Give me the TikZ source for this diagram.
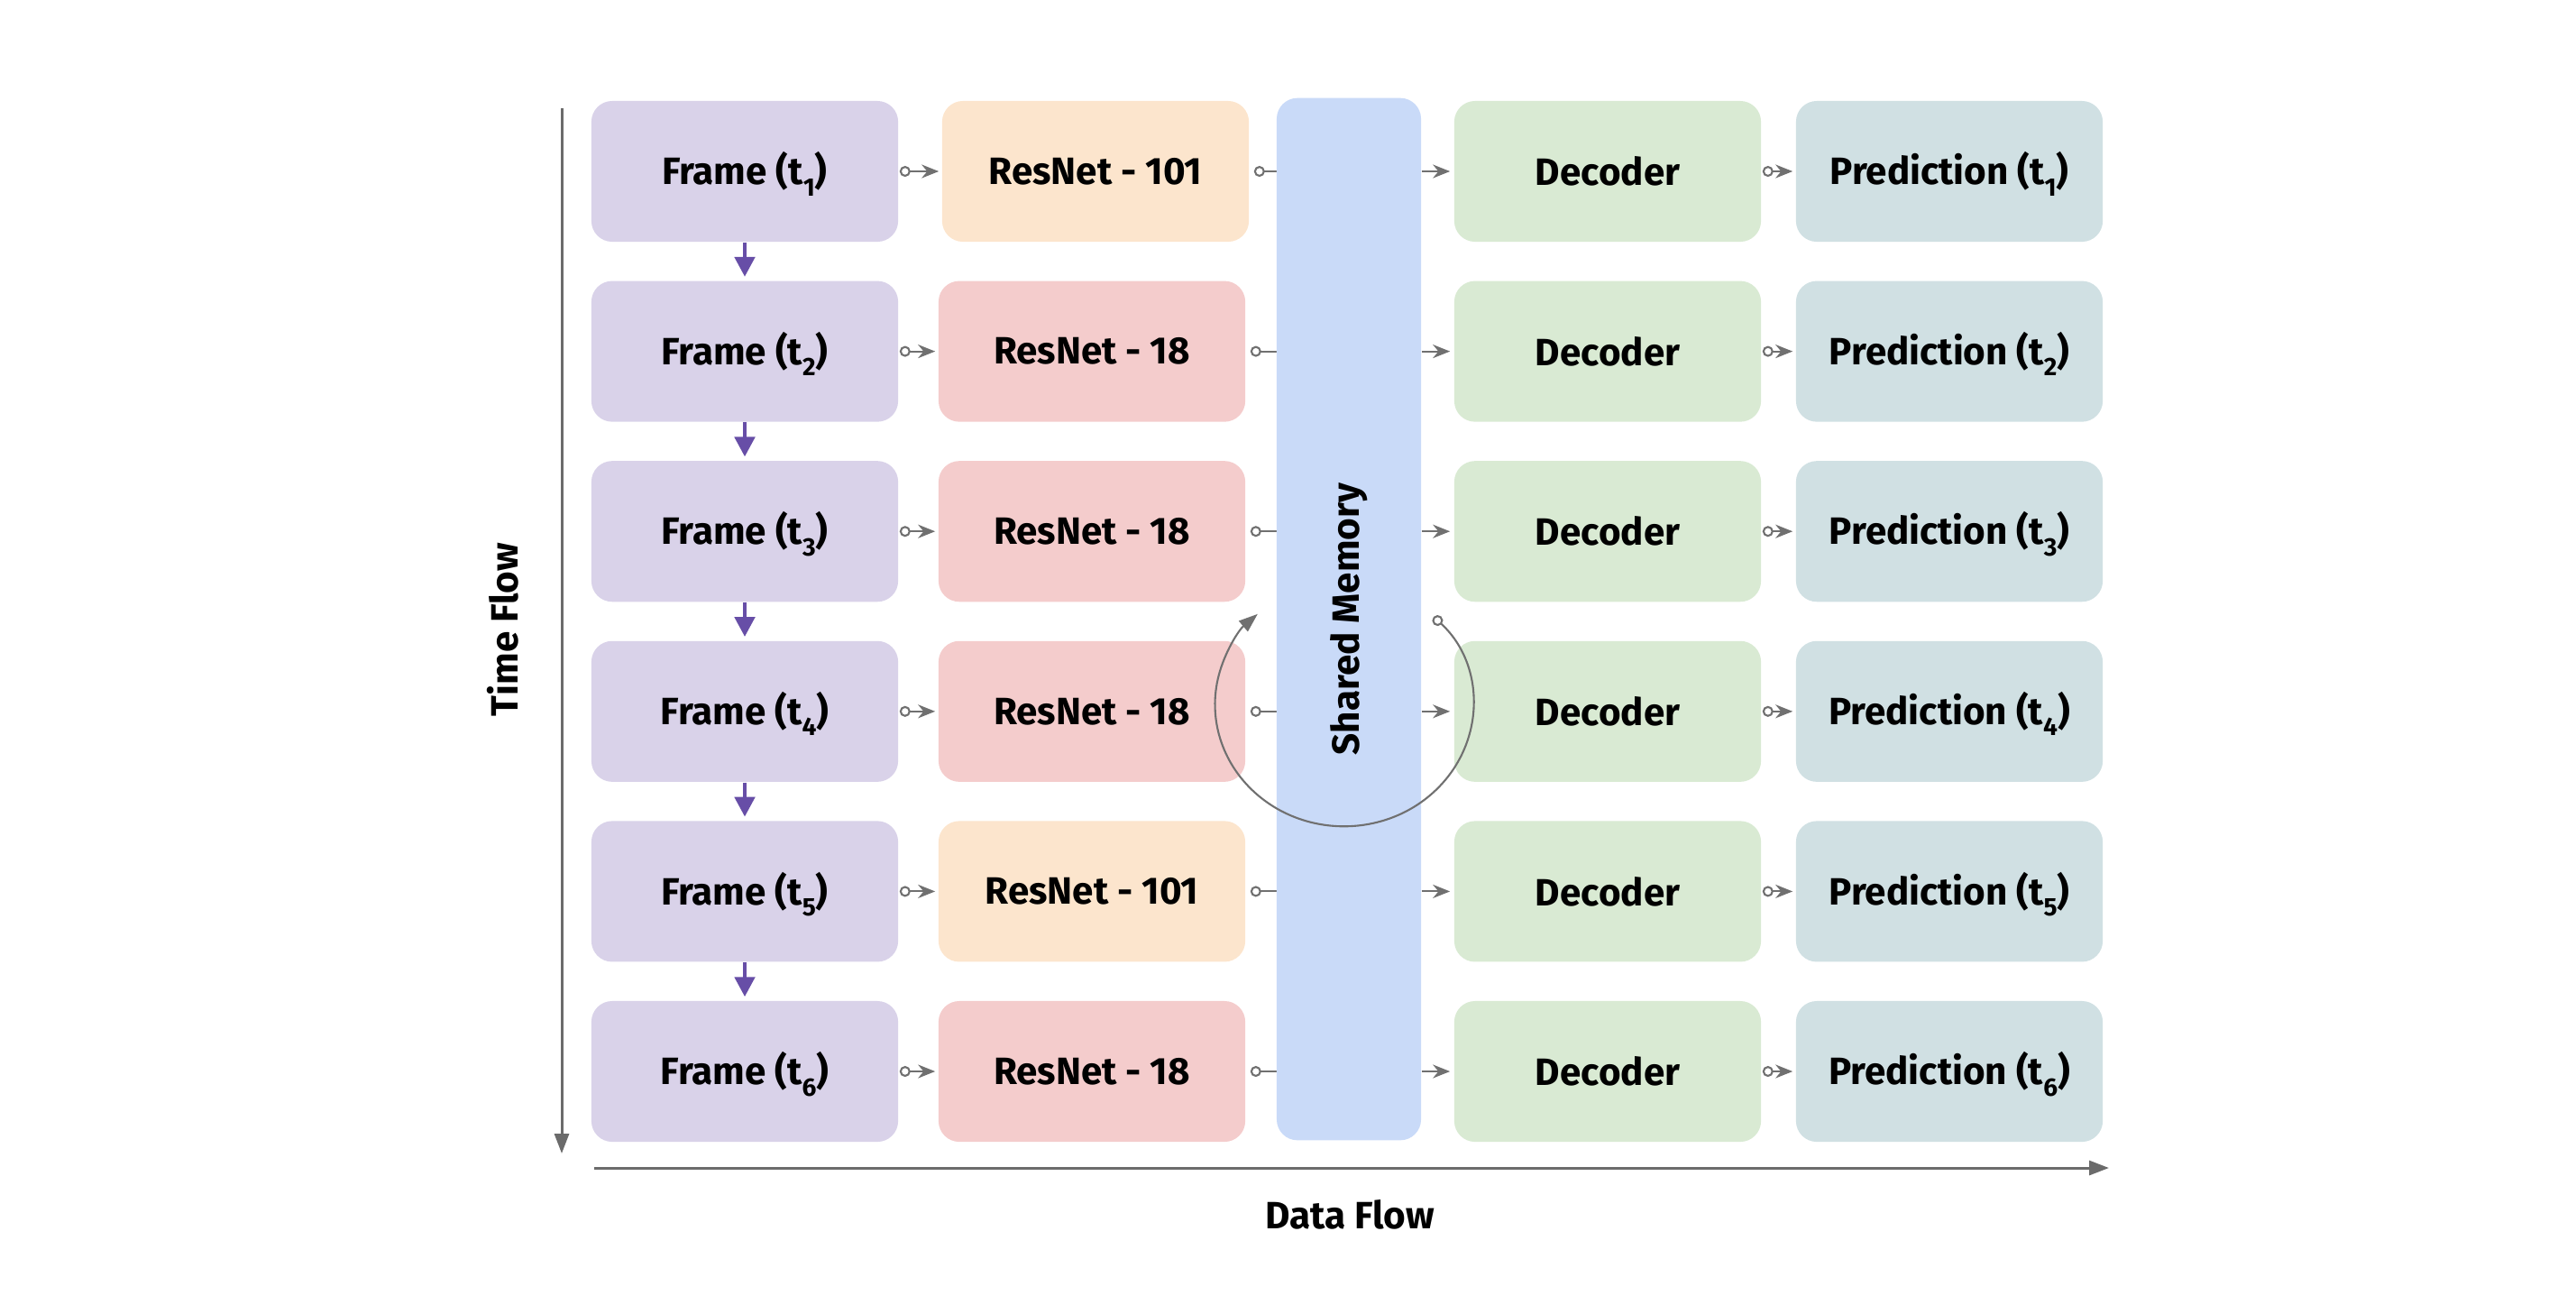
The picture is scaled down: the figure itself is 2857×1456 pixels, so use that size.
\documentclass[tikz,border=0pt]{standalone}
\usepackage{fontspec}
\setmainfont{Fira Sans}
\usetikzlibrary{arrows.meta}
\definecolor{framec}{HTML}{D9D2E9}
\definecolor{res101}{HTML}{FCE5CD}
\definecolor{res18}{HTML}{F4CCCC}
\definecolor{smc}{HTML}{C9DAF8}
\definecolor{decc}{HTML}{D9EAD3}
\definecolor{predc}{HTML}{D0E0E3}
\definecolor{linkc}{HTML}{707070}
\definecolor{axisc}{HTML}{6B6B6B}
\definecolor{purp}{HTML}{674EA7}
\newcommand{\tsb}[1]{t\raisebox{-0.55ex}[0pt][0pt]{\fontsize{8}{9}\selectfont #1}}
\begin{document}
\begin{tikzpicture}[x=0.01cm,y=-0.01cm,
  box/.style={rounded corners=0.23cm, minimum width=3.40cm, minimum height=1.56cm, inner sep=0pt,
    font=\bfseries\fontsize{12}{14}\selectfont},
  lbl/.style={font=\bfseries\fontsize{12}{14}\selectfont},
  link/.style={draw=linkc, line width=0.6pt,
    {Circle[open,length=0.12cm,width=0.12cm,fill=white]}-{Stealth[length=0.19cm,width=0.15cm]}},
  linko/.style={draw=linkc, line width=0.6pt, {Circle[open,length=0.12cm,width=0.12cm,fill=white]}-},
  linka/.style={draw=linkc, line width=0.6pt, -{Stealth[length=0.19cm,width=0.15cm]}},
  down/.style={draw=purp, fill=purp, line width=1.4pt, -{Triangle[length=0.22cm,width=0.22cm]}},
  axis/.style={draw=axisc, line width=0.85pt, -{Triangle[length=0.22cm,width=0.16cm]}}
]
\useasboundingbox (0,0) rectangle (2857,1456);

% frames, decoders, predictions
\foreach \i/\y in {1/190,2/389.6,3/589.2,4/788.8,5/988.4,6/1188}{
  \node[box, fill=framec] (f\i) at (826,\y) {Frame (\tsb{\i})};
  \node[box, fill=decc] (d\i) at (1783,\y) {Decoder};
  \node[box, fill=predc] (p\i) at (2162,\y) {Prediction (\tsb{\i})};
}
\node[box, fill=res101] (r1) at (1215,190) {ResNet - 101};
\node[box, fill=res18] (r2) at (1211,389.6) {ResNet - 18};
\node[box, fill=res18] (r3) at (1211,589.2) {ResNet - 18};
\node[box, fill=res18] (r4) at (1211,788.8) {ResNet - 18};
\node[box, fill=res101] (r5) at (1211,988.4) {ResNet - 101};
\node[box, fill=res18] (r6) at (1211,1188) {ResNet - 18};

% connectors (those into shared memory drawn under it)
\foreach \i in {1,...,6}{
  \draw[link] ([xshift=0.01cm]f\i.east) -- ([xshift=-0.03cm]r\i.west);
  \draw[linko] ([xshift=0.05cm]r\i.east) -- ++(0.40cm,0);
  \draw[link] ([xshift=0.01cm]d\i.east) -- ([xshift=-0.03cm]p\i.west);
}

% shared memory
\node[box, fill=smc, minimum width=1.60cm, minimum height=11.55cm] (sm) at (1496,686.5) {};
\node[lbl, rotate=90] (smt) at (sm.center) {Shared Memory};

\foreach \i in {1,...,6}{
  \draw[linka] (sm.east |- d\i.west) -- ([xshift=-0.04cm]d\i.west);
}

% frame-to-frame arrows
\foreach \i/\j in {1/2,2/3,3/4,4/5,5/6}{
  \draw[down] (f\i.south) -- ([yshift=0.04cm]f\j.north);
}

% loop around shared memory
\coordinate (ls) at (1590,684);
\draw[draw=linkc, line width=0.6pt, {Circle[open,length=0.12cm,width=0.12cm,fill=white]}-{Triangle[length=0.21cm,width=0.15cm]}]
  (ls) arc[start angle=46, end angle=-228, x radius=1.43cm, y radius=1.35cm];

% axes
\coordinate (vt) at (623,120);
\coordinate (vb) at (623,1279);
\coordinate (hl) at (659,1295);
\coordinate (hr) at (2339,1295);
\draw[axis] (vt) -- (vb);
\draw[axis] (hl) -- (hr);
\node[lbl, rotate=90] (tf) at (558,698) {Time Flow};
\node[lbl] (df) at (1497,1347) {Data Flow};
\end{tikzpicture}
\end{document}
